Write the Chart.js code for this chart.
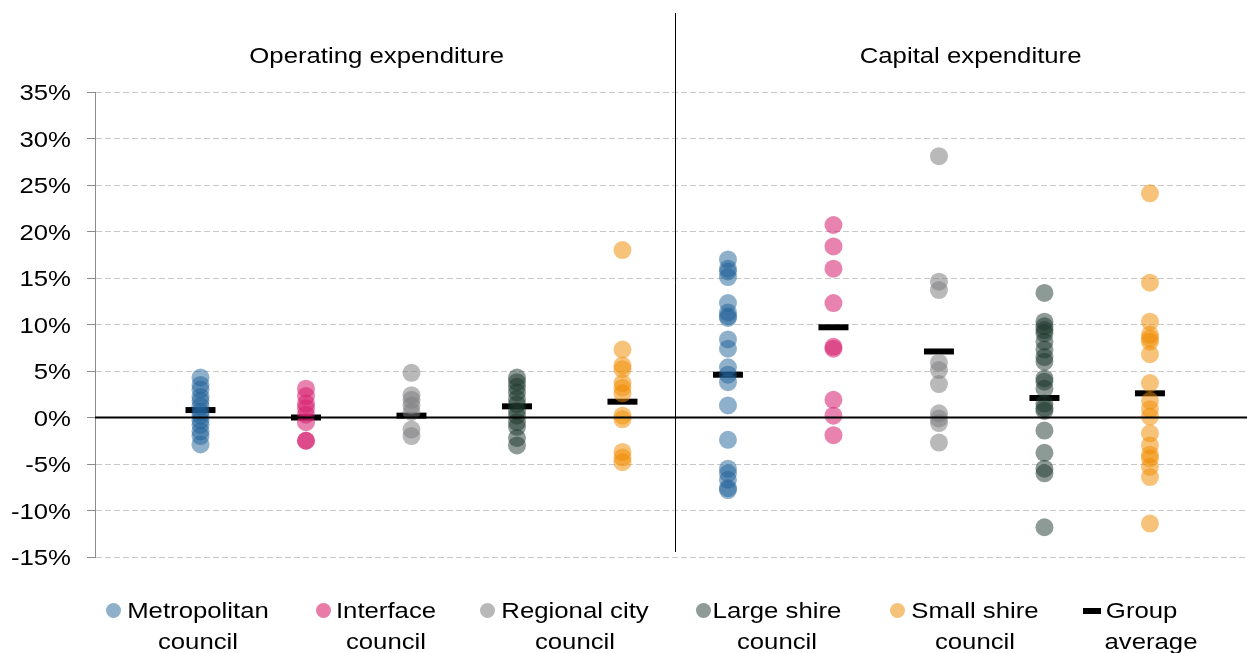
<!DOCTYPE html>
<html>
<head>
<meta charset="utf-8">
<script src="https://cdn.jsdelivr.net/npm/chart.js@4/dist/chart.umd.min.js"></script>
<style>
  html, body { margin: 0; padding: 0; overflow: hidden; background: #fff; font-family: "Liberation Sans", Arial, sans-serif; }
  #wrap { position: relative; width: 1247px; height: 653px; }
  #myChart { display: block; }
  .mk { position: absolute; width: 15px; height: 15px; border-radius: 50%; }
  .dash { position: absolute; width: 18px; height: 6px; background: #000; }
  .txt { position: absolute; width: 200px; font-size: 22px; line-height: 31px; color: #000; text-align: center; transform: scaleX(1.17); white-space: nowrap; }
</style>
</head>
<body>
<div id="wrap">
  <canvas id="myChart" width="1247" height="653"></canvas>
  <div id="legend"></div>
</div>
<script>
// groups and colours
var groups = ['Metropolitan council', 'Interface council', 'Regional city council', 'Large shire council', 'Small shire council'];
var legendLines = [['Metropolitan', 'council'], ['Interface', 'council'], ['Regional city', 'council'], ['Large shire', 'council'], ['Small shire', 'council'], ['Group', 'average']];
var colors = ['rgba(31,98,152,0.5)', 'rgba(214,30,110,0.55)', 'rgba(128,128,130,0.55)', 'rgba(28,54,44,0.5)', 'rgba(239,140,0,0.52)'];
var legendColors = ['#8fb0cb', '#e87ba8', '#b8b8b8', '#8e9b96', '#f5c27a'];

// per-council growth, operating expenditure (%)
var metroOpex = [4.3, 3.5, 3.0, 2.2, 1.8, 1.2, 0.6, 0.2, -0.3, -0.8, -1.5, -2.0, -2.9];
var interfaceOpex = [3.1, 2.3, 1.5, 1.0, 0.3, -0.5, -2.5, -2.5];
var regionalOpex = [4.8, 2.4, 1.9, 1.3, 0.6, -1.3, -2.0];
var largeOpex = [4.3, 3.8, 3.3, 2.7, 2.0, 1.4, 0.7, 0.2, -0.5, -1.0, -2.2, -3.0];
var smallOpex = [18.0, 7.3, 5.6, 5.2, 3.7, 3.2, 2.6, 0.2, -0.2, -3.7, -4.3, -4.8];

// per-council growth, capital expenditure (%)
var metroCapex = [17.0, 16.0, 15.7, 15.1, 12.3, 11.3, 10.9, 10.7, 8.4, 7.4, 5.4, 4.6, 3.8, 1.3, -2.4, -5.5, -6.0, -6.7, -7.6, -7.8];
var interfaceCapex = [20.7, 18.4, 16.0, 12.3, 7.6, 7.4, 1.9, 0.2, -1.9];
var regionalCapex = [28.1, 14.6, 13.7, 5.9, 5.1, 3.6, 0.45, -0.1, -0.6, -2.7];
var largeCapex = [13.4, 10.3, 9.8, 9.4, 9.05, 8.15, 7.3, 6.5, 6.0, 4.2, 3.85, 3.1, 1.5, 1.0, 0.7, -1.4, -3.8, -5.5, -6.0, -11.8];
var smallCapex = [24.1, 14.5, 10.3, 8.9, 8.5, 8.15, 6.8, 3.7, 1.8, 0.9, 0.1, -1.7, -3.0, -4.0, -4.4, -5.3, -6.4, -11.4];

// group averages
var avgOpex = [0.8, 0.0, 0.2, 1.2, 1.7];
var avgCapex = [4.6, 9.7, 7.1, 2.1, 2.6];

var headers = ['Operating expenditure', 'Capital expenditure'];
var yTicks = [-15, -10, -5, 0, 5, 10, 15, 20, 25, 30, 35];

var stretch = 1.17; // text in the original is a bit wider than Arial
var font = '22px "Liberation Sans", Arial, sans-serif';

var opexSets = [metroOpex, interfaceOpex, regionalOpex, largeOpex, smallOpex];
var capexSets = [metroCapex, interfaceCapex, regionalCapex, largeCapex, smallCapex];

var datasets = groups.map(function(g, i) {
    var pts = [];
    opexSets[i].forEach(function(v) { pts.push({x: i + 1, y: v}); });
    capexSets[i].forEach(function(v) { pts.push({x: i + 6, y: v}); });
    return {
        label: g,
        data: pts,
        backgroundColor: colors[i],
        borderWidth: 0,
        pointRadius: 9,
        pointHoverRadius: 9
    };
});

var avgPts = [];
avgOpex.forEach(function(v, i) { avgPts.push({x: i + 1, y: v}); });
avgCapex.forEach(function(v, i) { avgPts.push({x: i + 6, y: v}); });
datasets.push({
    label: 'Group average',
    data: avgPts,
    pointStyle: 'line',
    pointRadius: 15,
    pointHoverRadius: 15,
    borderColor: '#000',
    borderWidth: 6,
    pointBorderWidth: 6
});

function stretchText(ctx, text, x, y) {
    ctx.save();
    ctx.translate(x, y);
    ctx.scale(stretch, 1);
    ctx.fillText(text, 0, 0);
    ctx.restore();
}

// zero line, divider, headers and y labels
var extras = {
    id: 'extras',
    afterDatasetsDraw: function(chart) {
        var ctx = chart.ctx, xs = chart.scales.x, ys = chart.scales.y, area = chart.chartArea;
        ctx.save();
        ctx.strokeStyle = '#000';
        ctx.lineWidth = 2;
        ctx.beginPath();
        ctx.moveTo(area.left, ys.getPixelForValue(0));
        ctx.lineTo(area.right, ys.getPixelForValue(0));
        ctx.stroke();

        var dx = Math.round(xs.getPixelForValue(5.5)) + 0.5;
        ctx.lineWidth = 1;
        ctx.beginPath();
        ctx.moveTo(dx, 13);
        ctx.lineTo(dx, 552);
        ctx.stroke();

        ctx.fillStyle = '#000';
        ctx.font = font;
        ctx.textBaseline = 'alphabetic';
        ctx.textAlign = 'center';
        stretchText(ctx, headers[0], xs.getPixelForValue(2.67), 63);
        stretchText(ctx, headers[1], xs.getPixelForValue(8.3), 63);

        ctx.textAlign = 'right';
        yTicks.forEach(function(v) {
            stretchText(ctx, v + '%', 71, ys.getPixelForValue(v) + 8);
        });
        ctx.restore();
    }
};

var ctx = document.getElementById('myChart');

new Chart(ctx, {
    type: 'scatter',
    data: { datasets: datasets },
    options: {
        responsive: false,
        animation: false,
        layout: { autoPadding: false, padding: { top: 92, bottom: 96, left: 0, right: 0 } },
        scales: {
            x: {
                type: 'linear',
                display: false,
                min: 0,
                max: 10.92
            },
            y: {
                min: -15,
                max: 35,
                afterBuildTicks: function(axis) {
                    axis.ticks = yTicks.map(function(v) { return {value: v}; });
                },
                afterFit: function(axis) { axis.width = 95; },
                grid: {
                    color: '#c8c8c8',
                    lineWidth: 1,
                    tickColor: '#8c8c8c',
                    tickLength: 8
                },
                border: { color: '#8c8c8c', width: 1, dash: [6, 3] },
                ticks: { display: false }
            }
        },
        plugins: {
            legend: { display: false },
            tooltip: { enabled: false }
        }
    },
    plugins: [extras]
});

// legend below the chart
var markerX = [113, 323, 487, 703, 897, 1092];
var textCenter = [198, 386, 575, 777, 975, 1151];
var legend = document.getElementById('legend');
legendLines.forEach(function(lines, i) {
    var m = document.createElement('div');
    if (i < 5) {
        m.className = 'mk';
        m.style.background = legendColors[i];
        m.style.left = (markerX[i] - 7.5) + 'px';
        m.style.top = '603px';
    } else {
        m.className = 'dash';
        m.style.left = (markerX[i] - 9) + 'px';
        m.style.top = '608px';
    }
    legend.appendChild(m);

    var t = document.createElement('div');
    t.className = 'txt';
    t.style.left = (textCenter[i] - 100) + 'px';
    t.style.top = '595px';
    if (i < 5) {
        t.innerHTML = lines.join('<br>');
    } else {
        // "Group average" is left aligned in the original
        t.innerHTML = '<span style="position:relative;left:-8px">' + lines[0] + '</span><br>' + lines[1];
    }
    legend.appendChild(t);
});
</script>
</body>
</html>
